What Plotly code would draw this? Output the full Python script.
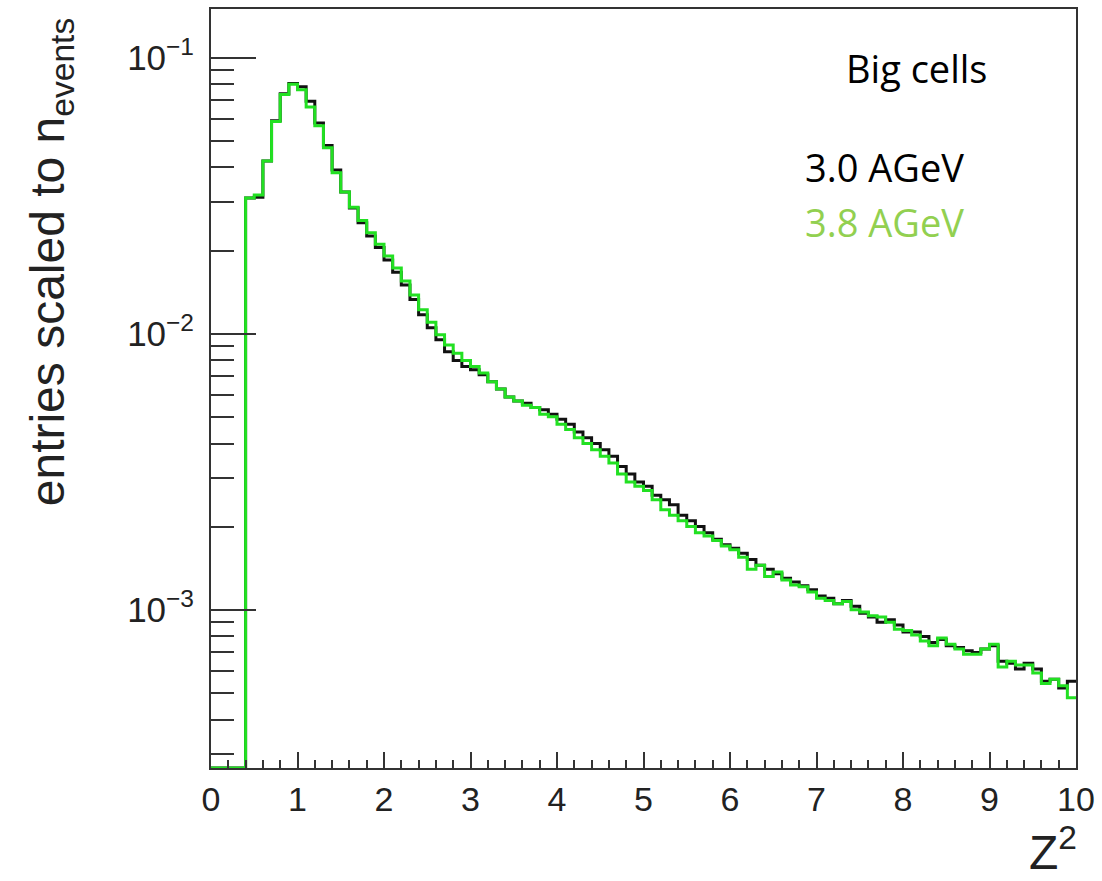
import plotly.graph_objects as go
import numpy as np

# ---------------- data ----------------
bin_edges = [round(0.1 * i, 1) for i in range(101)]  # Z^2 bins, width 0.1, 0..10

e30_values = [  # 3.0 AGeV (black)
    0, 0, 0, 0, 0.0310, 0.0312, 0.0422, 0.0590, 0.0740, 0.0805,
    0.0785, 0.0695, 0.0580, 0.0480, 0.0392, 0.0326, 0.0285, 0.0252, 0.0226, 0.0205,
    0.0185, 0.0167, 0.0150, 0.0133, 0.0117, 0.0105, 0.0095, 0.0086, 0.0080, 0.0076,
    0.0074, 0.0071, 0.0067, 0.0063, 0.0059, 0.0057, 0.0056, 0.0054, 0.0053, 0.0051,
    0.0049, 0.0047, 0.0044, 0.0042, 0.0040, 0.0038, 0.0036, 0.0033, 0.0031, 0.0029,
    0.0028, 0.0026, 0.0025, 0.0024, 0.0022, 0.0021, 0.0020, 0.0019, 0.00180, 0.00172,
    0.00167, 0.00160, 0.00152, 0.00145, 0.00140, 0.00135, 0.00130, 0.00126, 0.00122, 0.00118,
    0.00112, 0.00110, 0.00105, 0.00108, 0.00103, 0.00097, 0.00094, 0.00090, 0.00092, 0.00088,
    0.00083, 0.00083, 0.00080, 0.00076, 0.00078, 0.00074, 0.00073, 0.00071, 0.00070, 0.00072,
    0.00074, 0.00065, 0.00064, 0.00061, 0.00064, 0.00061, 0.00055, 0.00056, 0.00052, 0.00055,
]

e38_values = [  # 3.8 AGeV (green)
    0, 0, 0, 0, 0.0310, 0.0318, 0.0422, 0.0587, 0.0735, 0.0800,
    0.0765, 0.0663, 0.0566, 0.0471, 0.0383, 0.0326, 0.0287, 0.0257, 0.0232, 0.0211,
    0.0191, 0.0173, 0.0155, 0.0138, 0.0122, 0.0110, 0.0099, 0.0091, 0.0085, 0.0080,
    0.0076, 0.0072, 0.0067, 0.0063, 0.0059, 0.0057, 0.0055, 0.0054, 0.0051, 0.0050,
    0.0047, 0.0045, 0.0042, 0.0040, 0.0038, 0.0036, 0.0034, 0.0031, 0.0029, 0.0028,
    0.0027, 0.0025, 0.0023, 0.0022, 0.0021, 0.0020, 0.0019, 0.00185, 0.00178, 0.00170,
    0.00165, 0.00155, 0.00140, 0.00145, 0.00132, 0.00137, 0.00128, 0.00123, 0.00121, 0.00116,
    0.00110, 0.00108, 0.00105, 0.00107, 0.00100, 0.00098, 0.00095, 0.00094, 0.00090, 0.00085,
    0.00084, 0.00081, 0.00077, 0.00074, 0.00079, 0.00075, 0.00072, 0.00069, 0.00069, 0.00072,
    0.00075, 0.00062, 0.00065, 0.00063, 0.00063, 0.00059, 0.00054, 0.00056, 0.00053, 0.00048,
]

series_names = ["3.0 AGeV", "3.8 AGeV"]
y_tick_vals = [1e-3, 1e-2, 1e-1]
y_tick_text = ["10<sup>\u22123</sup>", "10<sup>\u22122</sup>", "10<sup>\u22121</sup>"]
x_tick_vals = list(range(0, 11))

Y_MIN, Y_MAX = 2.67e-4, 0.150

# ---------------- figure ----------------
def step_xy(values):
    # ROOT-like histogram outline: empty bins sit on the frame floor
    y = [v if v > 0 else Y_MIN for v in values]
    return bin_edges, y + [y[-1]]

W, H = 1102, 881
L, R, T, B = 211, 21, 7, 113

fig = go.Figure()
for vals, name, color in [(e30_values, series_names[0], "#111111"),
                          (e38_values, series_names[1], "#22e022")]:
    xs, ys = step_xy(vals)
    fig.add_trace(go.Scatter(x=xs, y=ys, mode="lines", name=name,
                             line=dict(shape="hv", color=color, width=3),
                             showlegend=False))

minor_y = [m * 10.0 ** e for e in (-4, -3, -2) for m in range(2, 10)
           if Y_MIN <= m * 10.0 ** e <= Y_MAX]

FONT = "Liberation Sans, Arial, sans-serif"
AXC = "#222222"

fig.update_layout(
    width=W, height=H,
    margin=dict(l=L, r=R, t=T, b=B),
    plot_bgcolor="white", paper_bgcolor="white",
    xaxis=dict(range=[0, 10], tickmode="array", tickvals=x_tick_vals,
               ticks="inside", ticklen=16, tickwidth=2, tickcolor="#333333",
               showline=True, linecolor="#333333", linewidth=2, mirror=True,
               showgrid=False, zeroline=False, ticklabelstandoff=0,
               tickfont=dict(size=34, family=FONT, color=AXC),
               minor=dict(dtick=0.2, ticks="inside", ticklen=8, tickwidth=2,
                          tickcolor="#333333", showgrid=False)),
    yaxis=dict(type="log", range=[np.log10(Y_MIN), np.log10(Y_MAX)],
               tickmode="array", tickvals=y_tick_vals, ticktext=y_tick_text,
               ticks="inside", ticklen=45, tickwidth=2, tickcolor="#333333",
               showline=True, linecolor="#333333", linewidth=2, mirror=True,
               showgrid=False, zeroline=False, ticklabelstandoff=8,
               tickfont=dict(size=35, family=FONT, color=AXC),
               minor=dict(tickmode="array", tickvals=minor_y, ticks="inside",
                          ticklen=23, tickwidth=2, tickcolor="#333333",
                          showgrid=False)),
)

pw, ph = W - L - R, H - T - B
def px(x): return (x - L) / pw
def py(y): return (H - B - y) / ph

LEG = "Open Sans, Lato, sans-serif"
annotations = [
    dict(x=px(50), y=py(260), text="entries scaled to n<sub>events</sub>",
         textangle=-90, showarrow=False, xanchor="center", yanchor="middle",
         font=dict(size=48, family=FONT, color=AXC)),
    dict(x=px(1084), y=py(849), text="Z<sup>2</sup>", showarrow=False,
         xanchor="right", yanchor="middle", font=dict(size=48, family=FONT, color=AXC)),
    dict(x=px(921), y=py(66), text="Big cells", showarrow=False,
         xanchor="center", yanchor="middle",
         font=dict(family=LEG, size=38, color="black")),
    dict(x=px(806), y=py(165), text=series_names[0], showarrow=False,
         xanchor="left", yanchor="middle",
         font=dict(family=LEG, size=38, color="black")),
    dict(x=px(806), y=py(221), text=series_names[1], showarrow=False,
         xanchor="left", yanchor="middle",
         font=dict(family=LEG, size=38, color="#92d050")),
]
for a in annotations:
    a.update(xref="paper", yref="paper")
fig.update_layout(annotations=annotations)

fig.write_html("out.html")
